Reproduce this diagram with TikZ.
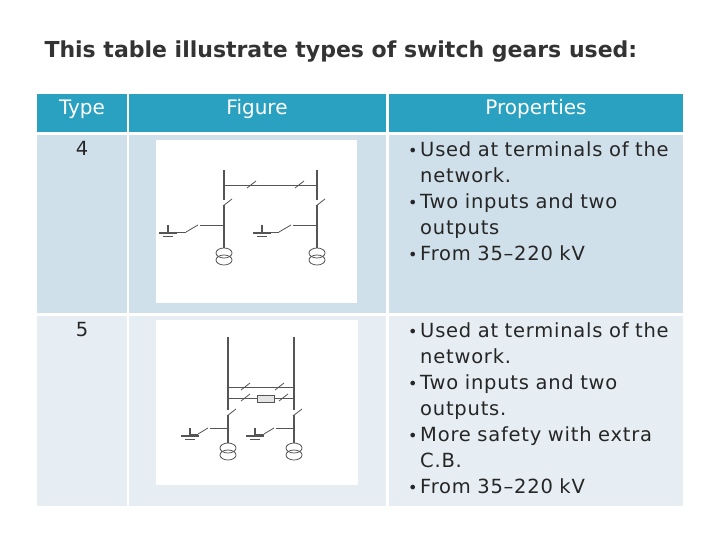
\documentclass[tikz,border=0pt]{standalone}
\usepackage{fontspec}
\setmainfont{DejaVu Sans}
\definecolor{headblue}{HTML}{2AA1C1}
\definecolor{rowone}{HTML}{CFE0EA}
\definecolor{rowtwo}{HTML}{E6EEF3}
\definecolor{wire}{HTML}{555555}
\tikzset{
  cell/.style={anchor=north west, inner sep=0pt},
  head/.style={text=white, font=\fontsize{20}{22}\selectfont},
  body/.style={font=\fontsize{19.5}{26}\selectfont\addfontfeature{LetterSpace=4}, text=black!85},
  w/.style={draw=wire, line width=1.4pt},
  thin/.style={draw=wire, line width=0.8pt},
}
\newcommand{\bul}{\par\hangindent=12pt\hangafter=1\noindent\makebox[12pt][l]{\fontsize{16}{16}\selectfont•}}
\newcommand{\brk}[2]{\draw[thin] (#1-3,#2+3) -- (#1+6,#2-4);}
\newcommand{\earth}[2]{%
  \draw[w] (#1,#2) -- (#1,#2+8);
  \draw[w] (#1-9,#2+8) -- (#1+9,#2+8);
  \draw[thin] (#1-5,#2+11) -- (#1+5,#2+11);}
\newcommand{\trafo}[2]{%
  \draw[thin] (#1,#2+4) ellipse (8 and 5);
  \draw[thin] (#1,#2+11) ellipse (8 and 5);}
\begin{document}
\begin{tikzpicture}[x=1pt,y=-1pt]
  \useasboundingbox (0,0) rectangle (720,540);
  \fill[white] (0,0) rectangle (720,540);
  % Title
  \node[anchor=west, font=\bfseries\fontsize{22}{24}\selectfont, text=black!80] (title) at (41,52) {This table illustrate types of switch gears used:};
  % Cells
  \fill[headblue] (37,94) rectangle (127,132);
  \fill[headblue] (129,94) rectangle (386,132);
  \fill[headblue] (389,94) rectangle (683,132);
  \fill[rowone] (37,135) rectangle (127,313);
  \fill[rowone] (129,135) rectangle (386,313);
  \fill[rowone] (389,135) rectangle (683,313);
  \fill[rowtwo] (37,316) rectangle (127,506);
  \fill[rowtwo] (129,316) rectangle (386,506);
  \fill[rowtwo] (389,316) rectangle (683,506);
  \node[head] (htype) at (82,109) {Type};
  \node[head] (hfig) at (257,109) {Figure};
  \node[head] (hprop) at (536,109) {Properties};
  \node[body] (t4) at (82,148) {4};
  \node[body] (t5) at (82,330) {5};
  \node[cell, body, text width=278pt, align=left] (p4) at (408,130) {%
    \parskip=0pt\hyphenpenalty=10000
    \bul Used at terminals of the network.
    \bul Two inputs and two outputs
    \bul From 35--220 kV};
  \node[cell, body, text width=278pt, align=left] (p5) at (408,311) {%
    \parskip=0pt\hyphenpenalty=10000
    \bul Used at terminals of the network.
    \bul Two inputs and two outputs.
    \bul More safety with extra C.B.
    \bul From 35--220 kV};
  % Figure 4
  \fill[white] (156,140) rectangle (357,303);
  \draw[w] (224,170) -- (224,200);
  \draw[w] (317,170) -- (317,200);
  \draw[thin] (224,185) -- (317,185);
  \brk{250}{185} \brk{298}{185}
  \foreach \bx/\ex in {224/168, 317/262} {
    \draw[w] (\bx,205) -- (\bx,248);
    \brk{\bx+2}{203}
    \draw[thin] (\bx,225) -- (\bx-24,225);
    \draw[thin] (\bx-26,225) -- (\bx-38,232);
    \draw[thin] (\bx-38,232) -- (\ex,232);
    \earth{\ex}{225}
    \trafo{\bx}{249}
  }
  % Figure 5
  \fill[white] (156,320) rectangle (358,485);
  \draw[w] (228,337) -- (228,410);
  \draw[w] (294,337) -- (294,410);
  \draw[thin] (228,387) -- (294,387);
  \brk{244}{387} \brk{278}{387}
  \draw[thin] (228,398) -- (257,398);
  \draw[thin] (274,398) -- (294,398);
  \draw[thin, fill=black!10] (257,395) rectangle (274,402);
  \brk{244}{398} \brk{282}{398}
  \foreach \bx/\ex in {228/190, 294/255} {
    \draw[w] (\bx,415) -- (\bx,443);
    \brk{\bx+2}{413}
    \draw[thin] (\bx,428) -- (\bx-18,428);
    \draw[thin] (\bx-20,428) -- (\bx-30,434);
    \draw[thin] (\bx-30,434) -- (\ex,434);
    \earth{\ex}{428}
    \trafo{\bx}{444}
  }
\end{tikzpicture}
\end{document}
